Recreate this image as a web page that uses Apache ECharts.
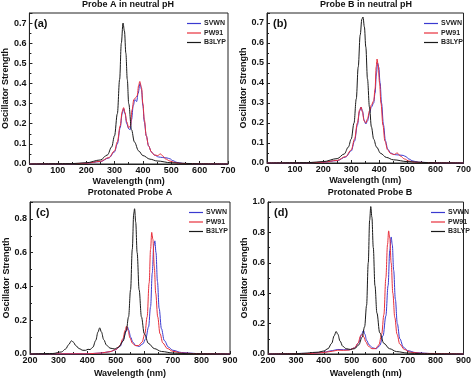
<!DOCTYPE html>
<html><head><meta charset="utf-8">
<script src="https://cdn.jsdelivr.net/npm/echarts@6/dist/echarts.min.js"></script>
<style>html,body{margin:0;padding:0;background:#fff}#c{width:474px;height:380px}</style>
</head><body><div id="c"></div>
<script>
const seriesNames = ['SVWN', 'PW91', 'B3LYP'];
const panelTitles = ['Probe A in neutral pH', 'Probe B in neutral pH', 'Protonated Probe A', 'Protonated Probe B'];
const panelLabels = ['(a)', '(b)', '(c)', '(d)'];
const xLabel = 'Wavelength (nm)';
const yLabel = 'Oscillator Strength';

// Panel (a)
const aSVWN = [[0,0],[150,0.001],[200,0.004],[250,0.012],[280,0.03],[300,0.06],[310,0.1],[320,0.18],[327,0.25],[332,0.275],[337,0.25],[343,0.2],[350,0.175],[355,0.17],[360,0.22],[366,0.29],[372,0.32],[378,0.31],[383,0.35],[390,0.40],[395,0.37],[400,0.29],[405,0.21],[412,0.14],[420,0.09],[430,0.06],[440,0.045],[455,0.035],[470,0.032],[485,0.03],[495,0.026],[505,0.017],[520,0.008],[540,0.003],[600,0.001],[700,0]];
const aPW91 = [[0,0],[150,0.001],[200,0.004],[250,0.013],[280,0.032],[300,0.065],[310,0.11],[320,0.19],[327,0.26],[332,0.28],[337,0.255],[343,0.21],[350,0.18],[356,0.19],[362,0.27],[368,0.32],[375,0.33],[380,0.34],[385,0.39],[389,0.41],[395,0.38],[400,0.3],[405,0.22],[412,0.14],[420,0.09],[430,0.06],[440,0.045],[452,0.042],[462,0.05],[470,0.04],[480,0.025],[495,0.015],[510,0.008],[530,0.003],[600,0.001],[700,0]];
const aB3LYP = [[0,0],[150,0.002],[200,0.006],[250,0.02],[275,0.045],[290,0.085],[300,0.14],[310,0.25],[318,0.42],[324,0.6],[330,0.70],[335,0.66],[340,0.55],[345,0.42],[350,0.30],[360,0.17],[370,0.11],[385,0.065],[400,0.042],[425,0.024],[450,0.015],[500,0.006],[550,0.003],[600,0.001],[700,0]];

// Panel (b)
const bSVWN = [[0,0],[150,0.001],[200,0.004],[250,0.012],[280,0.03],[300,0.06],[312,0.11],[322,0.19],[330,0.26],[335,0.28],[340,0.26],[346,0.215],[352,0.195],[358,0.21],[365,0.25],[372,0.28],[380,0.3],[385,0.35],[390,0.45],[394,0.50],[398,0.48],[403,0.4],[408,0.3],[415,0.19],[422,0.11],[430,0.07],[440,0.05],[455,0.042],[470,0.04],[485,0.038],[495,0.032],[505,0.02],[520,0.01],[540,0.004],[600,0.001],[700,0]];
const bPW91 = [[0,0],[150,0.001],[200,0.004],[250,0.013],[280,0.032],[300,0.065],[312,0.12],[322,0.2],[330,0.265],[335,0.28],[340,0.255],[346,0.21],[352,0.2],[358,0.22],[365,0.26],[372,0.29],[380,0.31],[385,0.37],[389,0.48],[392,0.52],[396,0.49],[401,0.4],[406,0.3],[413,0.19],[420,0.11],[430,0.065],[440,0.048],[452,0.042],[464,0.05],[475,0.035],[490,0.02],[505,0.01],[525,0.004],[600,0.001],[700,0]];
const bB3LYP = [[0,0],[150,0.002],[200,0.007],[250,0.022],[275,0.045],[290,0.08],[300,0.12],[310,0.2],[318,0.32],[325,0.48],[332,0.64],[338,0.72],[342,0.73],[347,0.68],[352,0.58],[358,0.42],[365,0.28],[372,0.18],[380,0.12],[390,0.08],[405,0.048],[425,0.028],[450,0.016],[500,0.007],[550,0.003],[600,0.001],[700,0]];

// Panel (c)
const cSVWN = [[200,0],[400,0.001],[450,0.006],[480,0.014],[500,0.025],[515,0.045],[527,0.085],[535,0.13],[541,0.16],[546,0.14],[552,0.1],[560,0.07],[570,0.05],[582,0.045],[595,0.06],[605,0.09],[615,0.16],[622,0.28],[628,0.48],[633,0.64],[637,0.67],[641,0.6],[646,0.43],[652,0.27],[660,0.15],[670,0.08],[685,0.04],[700,0.022],[730,0.009],[780,0.003],[900,0]];
const cPW91 = [[200,0],[400,0.001],[450,0.006],[480,0.014],[500,0.026],[515,0.05],[525,0.09],[533,0.14],[538,0.165],[543,0.14],[550,0.095],[558,0.065],[568,0.05],[580,0.05],[592,0.07],[602,0.12],[610,0.22],[617,0.42],[622,0.62],[626,0.72],[630,0.68],[635,0.52],[640,0.36],[647,0.22],[655,0.12],[665,0.065],[680,0.033],[700,0.016],[730,0.006],[780,0.002],[900,0]];
const cB3LYP = [[200,0],[280,0.003],[310,0.012],[325,0.03],[335,0.055],[345,0.078],[352,0.07],[360,0.05],[372,0.032],[385,0.022],[395,0.022],[403,0.028],[410,0.026],[420,0.04],[430,0.08],[438,0.13],[444,0.155],[450,0.13],[458,0.085],[468,0.052],[480,0.035],[495,0.03],[510,0.04],[525,0.075],[537,0.14],[545,0.22],[552,0.38],[558,0.62],[563,0.83],[566,0.86],[570,0.78],[575,0.6],[582,0.38],[590,0.22],[600,0.12],[615,0.062],[635,0.032],[660,0.015],[700,0.006],[750,0.002],[900,0]];

// Panel (d)
const dSVWN = [[200,0],[350,0.004],[400,0.012],[430,0.022],[450,0.03],[470,0.028],[490,0.028],[510,0.04],[525,0.075],[535,0.13],[542,0.155],[547,0.13],[553,0.09],[562,0.06],[575,0.04],[588,0.035],[600,0.055],[612,0.12],[622,0.25],[630,0.45],[636,0.68],[641,0.77],[645,0.72],[650,0.55],[656,0.36],[663,0.2],[672,0.1],[685,0.045],[700,0.022],[730,0.009],[780,0.003],[900,0]];
const dPW91 = [[200,0],[350,0.003],[400,0.01],[430,0.018],[450,0.025],[470,0.024],[490,0.026],[510,0.04],[522,0.07],[532,0.12],[538,0.13],[544,0.11],[550,0.08],[560,0.05],[572,0.035],[585,0.035],[597,0.06],[607,0.13],[615,0.26],[622,0.5],[628,0.72],[632,0.81],[636,0.76],[641,0.6],[647,0.4],[654,0.24],[662,0.13],[672,0.065],[688,0.03],[710,0.012],[750,0.004],[900,0]];
const dB3LYP = [[200,0],[300,0.002],[340,0.006],[360,0.01],[380,0.012],[400,0.02],[415,0.035],[428,0.07],[437,0.12],[444,0.148],[450,0.13],[458,0.085],[468,0.05],[480,0.035],[495,0.03],[510,0.035],[525,0.06],[537,0.11],[546,0.18],[553,0.32],[559,0.6],[564,0.88],[568,0.97],[572,0.9],[577,0.7],[583,0.45],[590,0.27],[600,0.14],[615,0.07],[635,0.035],[660,0.016],[700,0.006],[750,0.002],[900,0]];

const xRanges = [[0,700,100],[0,700,100],[200,900,100],[200,900,100]];
const yRanges = [[0,0.75,0.1],[0,0.75,0.1],[0,0.9,0.2],[0,1.0,0.2]];
const showYMax = [false, false, false, true];
const panelData = [[aSVWN,aPW91,aB3LYP],[bSVWN,bPW91,bB3LYP],[cSVWN,cPW91,cB3LYP],[dSVWN,dPW91,dB3LYP]];

const colors = ['#3a3ad0', '#e8303c', '#1a1a1a'];
const grids = [
  {left:28, top:13, width:200, height:151},
  {left:267, top:13, width:198, height:150},
  {left:30, top:202, width:200, height:152},
  {left:268, top:202, width:204, height:152}
];
const FF = 'Liberation Sans, Arial, sans-serif';

const option = {
  animation:false,
  backgroundColor:'#fff',
  title: [],
  legend: [],
  grid: grids.map(g => Object.assign({show:true, borderColor:'#222', borderWidth:1, backgroundColor:'transparent'}, g)),
  xAxis: [], yAxis: [], series: []
};

grids.forEach((g, i) => {
  option.title.push({text: panelTitles[i], left: g.left + g.width/2, top: i < 2 ? 0 : 188, textAlign:'center', padding:0,
    textStyle:{fontFamily:FF, fontSize:9, fontWeight:'bold', color:'#111'}});
  option.title.push({text: panelLabels[i], left: g.left + 6, top: g.top + 5, padding:0,
    textStyle:{fontFamily:FF, fontSize:11, fontWeight:'bold', color:'#111'}});
  option.legend.push({
    data: seriesNames.map((n,k)=>({name: n + '\u200b'.repeat(i)})),
    orient:'vertical', left: g.left + g.width - 41, top: g.top + 7, padding:0,
    icon:'rect', itemWidth:14, itemHeight:1.2, itemGap:2.5,
    textStyle:{fontFamily:FF, fontSize:7, fontWeight:'bold', color:'#222', padding:[0,0,0,-2]}
  });
  const [xmin,xmax,xint] = xRanges[i];
  const [ymin,ymax,yint] = yRanges[i];
  option.xAxis.push({type:'value', gridIndex:i, min:xmin, max:xmax, interval:xint,
    name:xLabel, nameLocation:'middle', nameGap: i<2 ? 13 : 15,
    nameTextStyle:{fontFamily:FF, fontSize:9, fontWeight:'bold', color:'#111'},
    axisLine:{onZero:false, lineStyle:{color:'#222'}},
    axisTick:{inside:true, length:3, lineStyle:{color:'#222'}},
    minorTick:{show:true, splitNumber:2, length:2, lineStyle:{color:'#222'}},
    splitLine:{show:false},
    axisLabel:{fontFamily:FF, fontSize:9, fontWeight:'bold', color:'#111', margin:2}
  });
  option.yAxis.push({type:'value', gridIndex:i, min:ymin, max:ymax, interval:yint,
    name:yLabel, nameLocation:'middle', nameGap: 19,
    nameTextStyle:{fontFamily:FF, fontSize:9, fontWeight:'bold', color:'#111'},
    axisLine:{onZero:false, lineStyle:{color:'#222'}},
    axisTick:{inside:true, length:3, lineStyle:{color:'#222'}},
    minorTick:{show:true, splitNumber:2, length:2, lineStyle:{color:'#222'}},
    splitLine:{show:false},
    axisLabel:{fontFamily:FF, fontSize:9, fontWeight:'bold', color:'#111', margin:3,
      showMaxLabel: showYMax[i], formatter: v => v.toFixed(1)}
  });
  panelData[i].forEach((d,k) => {
    option.series.push({type:'line', name: seriesNames[k] + '\u200b'.repeat(i), xAxisIndex:i, yAxisIndex:i,
      data:d, smooth:0.35, smoothMonotone:'x', showSymbol:false, symbol:'none',
      lineStyle:{color:colors[k], width:1}, itemStyle:{color:colors[k]}, z: k===2 ? 3 : (k===0?1:2)});
  });
});

const chart = echarts.init(document.getElementById('c'), null, {renderer:'canvas'});
chart.setOption(option);
</script></body></html>
